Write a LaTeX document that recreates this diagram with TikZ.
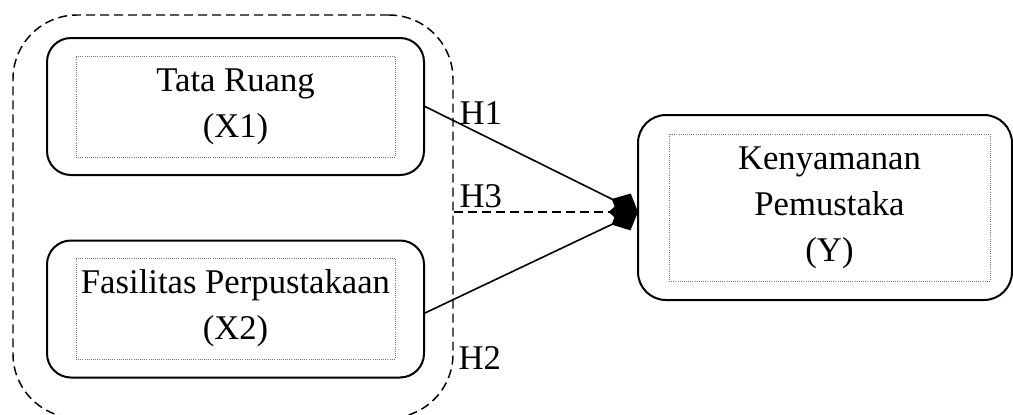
\documentclass[tikz,border=0pt]{standalone}
\usepackage{fontspec}
\setmainfont{Liberation Serif}
\usetikzlibrary{arrows.meta,calc}

\tikzset{every picture/.style={line width=0.75pt}}
\tikzset{
  varbox/.style={draw, line width=1.5pt, rounded corners=18pt, minimum width=282.75pt, minimum height=102.75pt, inner sep=0pt},
  txtbox/.style={draw=black!55, densely dotted, line width=0.6pt, minimum width=239.25pt, minimum height=75.75pt, inner sep=0pt, align=center, font=\fontsize{26}{34.5}\selectfont},
  grpbox/.style={draw, line width=1.1pt, dash pattern=on 6.75pt off 3.75pt, rounded corners=48pt, minimum width=330pt, minimum height=302.25pt, inner sep=0pt},
  hyp/.style={line width=1.2pt, -{Diamond[length=22pt,width=20pt]}},
  hlabel/.style={anchor=base west, inner sep=0pt, font=\fontsize{26}{30}\selectfont}
}

\begin{document}
\begin{tikzpicture}[x=0.75pt,y=0.75pt,yscale=-1,xscale=1]
	\useasboundingbox (0,0) rectangle (1013,414);

	%Shape: Rounded Rect (group of the independent variables)
	\node [grpbox] (grp) at (233,216.5) {};

	%Shape: Rounded Rect
	\node [varbox] (x1) at (235.5,106.5) {};
	\node [txtbox] (x1t) at (235.5,106.5) {Tata Ruang\\(X1)};
	%Shape: Rounded Rect
	\node [varbox] (x2) at (235.5,309) {};
	\node [txtbox] (x2t) at (235.5,308.5) {Fasilitas Perpustakaan\\(X2)};
	%Shape: Rounded Rect
	\node [varbox, minimum width=280.5pt, minimum height=138.75pt, rounded corners=21pt] (y) at (825,207.5) {};
	\node [txtbox, minimum width=240.75pt, minimum height=110.25pt] (yt) at (829.5,207.5) {Kenyamanan\\Pemustaka\\(Y)};

	\coordinate (yin) at (638,212);

	%Straight Lines
	\draw [hyp] (x1.east) -- (yin);
	\draw [hyp] ($(x2.east)+(0,4)$) -- (yin);
	\draw [hyp, dash pattern=on 6.75pt off 3.75pt] (grp.east |- yin) -- (yin);

	% Text Node
	\node [hlabel] (h1) at (459,124) {H1};
	% Text Node
	\node [hlabel] (h3) at (459,207) {H3};
	% Text Node
	\node [hlabel] (h2) at (458,369) {H2};

\end{tikzpicture}
\end{document}
